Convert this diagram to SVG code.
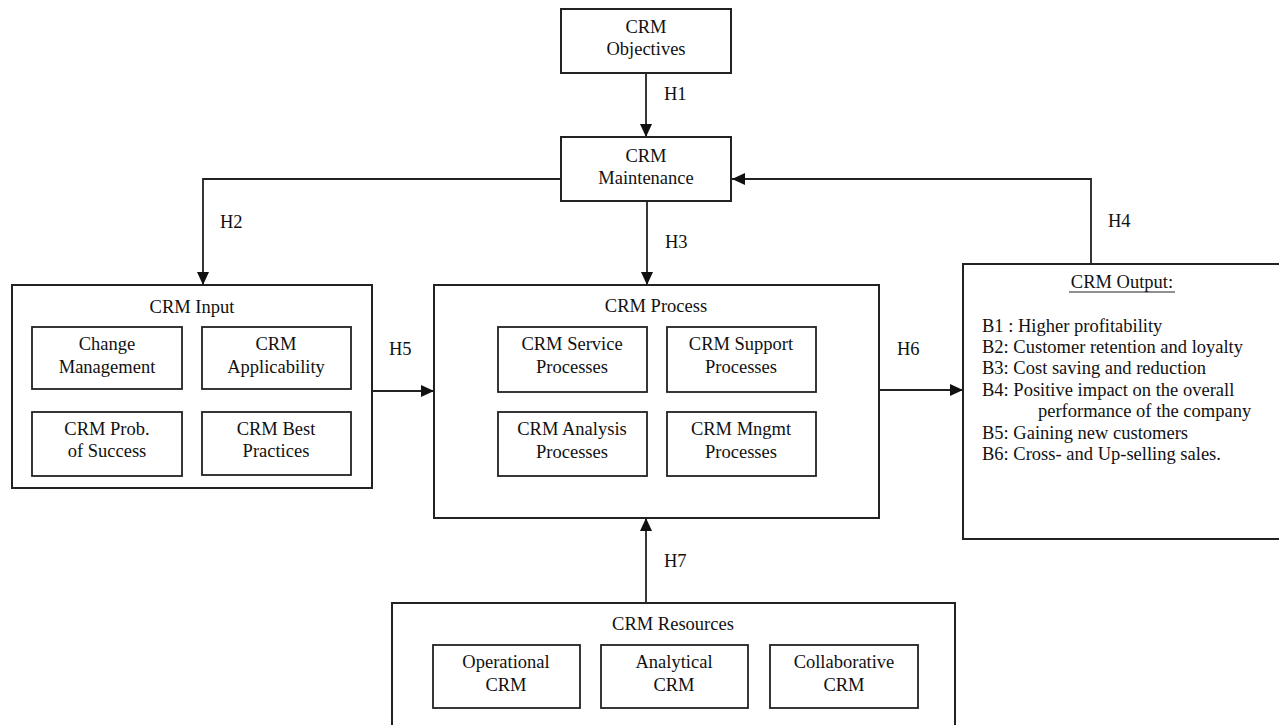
<svg xmlns="http://www.w3.org/2000/svg" width="1279" height="725" viewBox="0 0 1279 725">
<defs>
<marker id="arr" markerUnits="userSpaceOnUse" markerWidth="14" markerHeight="14" refX="13" refY="6" orient="auto">
<path d="M0,0 L13,6 L0,12 Z" fill="#111"/>
</marker>
<style>
.box{fill:#fff;stroke:#222;stroke-width:2}
.in{fill:#fff;stroke:#222;stroke-width:1.8}
.t{font-family:"Liberation Serif","Times New Roman",serif;font-size:18.5px;fill:#111}
.c{text-anchor:middle}
.ln{fill:none;stroke:#222;stroke-width:1.8}
</style>
</defs>
<rect width="1279" height="725" fill="#fff"/>

<g id="connectors">
<line class="ln" x1="646" y1="73" x2="646" y2="137" marker-end="url(#arr)"/>
<polyline class="ln" points="561,179 203,179 203,285" marker-end="url(#arr)"/>
<line class="ln" x1="647" y1="201" x2="647" y2="285" marker-end="url(#arr)"/>
<polyline class="ln" points="1091,264 1091,179 732,179" marker-end="url(#arr)"/>
<line class="ln" x1="372" y1="391" x2="434" y2="391" marker-end="url(#arr)"/>
<line class="ln" x1="879" y1="390" x2="963" y2="390" marker-end="url(#arr)"/>
<line class="ln" x1="646" y1="603" x2="646" y2="518" marker-end="url(#arr)"/>
<text class="t" x="664" y="100">H1</text>
<text class="t" x="220" y="228">H2</text>
<text class="t" x="665" y="248">H3</text>
<text class="t" x="1108" y="227">H4</text>
<text class="t" x="389" y="355">H5</text>
<text class="t" x="897" y="355">H6</text>
<text class="t" x="664" y="567">H7</text>
</g>

<g id="objectives">
<rect class="box" x="561" y="9" width="170" height="64"/>
<text class="t c" x="646" y="33">CRM</text>
<text class="t c" x="646" y="55">Objectives</text>
</g>

<g id="maintenance">
<rect class="box" x="561" y="137" width="170" height="64"/>
<text class="t c" x="646" y="162">CRM</text>
<text class="t c" x="646" y="184">Maintenance</text>
</g>

<g id="input">
<rect class="box" x="12" y="285" width="360" height="203"/>
<text class="t c" x="192" y="313">CRM Input</text>
<rect class="in" x="32" y="327" width="150" height="62"/>
<text class="t c" x="107" y="350">Change</text>
<text class="t c" x="107" y="373">Management</text>
<rect class="in" x="202" y="327" width="149" height="62"/>
<text class="t c" x="276" y="350">CRM</text>
<text class="t c" x="276" y="373">Applicability</text>
<rect class="in" x="32" y="412" width="150" height="64"/>
<text class="t c" x="107" y="435">CRM Prob.</text>
<text class="t c" x="107" y="457">of Success</text>
<rect class="in" x="202" y="412" width="149" height="63"/>
<text class="t c" x="276" y="435">CRM Best</text>
<text class="t c" x="276" y="457">Practices</text>
</g>

<g id="process">
<rect class="box" x="434" y="285" width="445" height="233"/>
<text class="t c" x="656" y="312">CRM Process</text>
<rect class="in" x="498" y="327" width="149" height="65"/>
<text class="t c" x="572" y="350">CRM Service</text>
<text class="t c" x="572" y="373">Processes</text>
<rect class="in" x="667" y="327" width="149" height="65"/>
<text class="t c" x="741" y="350">CRM Support</text>
<text class="t c" x="741" y="373">Processes</text>
<rect class="in" x="498" y="412" width="149" height="64"/>
<text class="t c" x="572" y="435">CRM Analysis</text>
<text class="t c" x="572" y="458">Processes</text>
<rect class="in" x="667" y="412" width="149" height="64"/>
<text class="t c" x="741" y="435">CRM Mngmt</text>
<text class="t c" x="741" y="458">Processes</text>
</g>

<g id="output">
<rect class="box" x="963" y="264" width="330" height="275"/>
<text class="t c" x="1122" y="288">CRM Output:</text>
<line x1="1069" y1="292" x2="1175" y2="292" stroke="#222" stroke-width="1.2"/>
<text class="t" x="982" y="332">B1 : Higher profitability</text>
<text class="t" x="982" y="353">B2: Customer retention and loyalty</text>
<text class="t" x="982" y="374">B3: Cost saving and reduction</text>
<text class="t" x="982" y="396">B4: Positive impact on the overall</text>
<text class="t" x="1038" y="417">performance of the company</text>
<text class="t" x="982" y="439">B5: Gaining  new customers</text>
<text class="t" x="982" y="460">B6: Cross- and Up-selling sales.</text>
</g>

<g id="resources">
<rect class="box" x="392" y="603" width="563" height="140"/>
<text class="t c" x="673" y="630">CRM Resources</text>
<rect class="in" x="433" y="645" width="147" height="63"/>
<text class="t c" x="506" y="668">Operational</text>
<text class="t c" x="506" y="691">CRM</text>
<rect class="in" x="601" y="645" width="147" height="63"/>
<text class="t c" x="674" y="668">Analytical</text>
<text class="t c" x="674" y="691">CRM</text>
<rect class="in" x="770" y="645" width="148" height="63"/>
<text class="t c" x="844" y="668">Collaborative</text>
<text class="t c" x="844" y="691">CRM</text>
</g>
</svg>
